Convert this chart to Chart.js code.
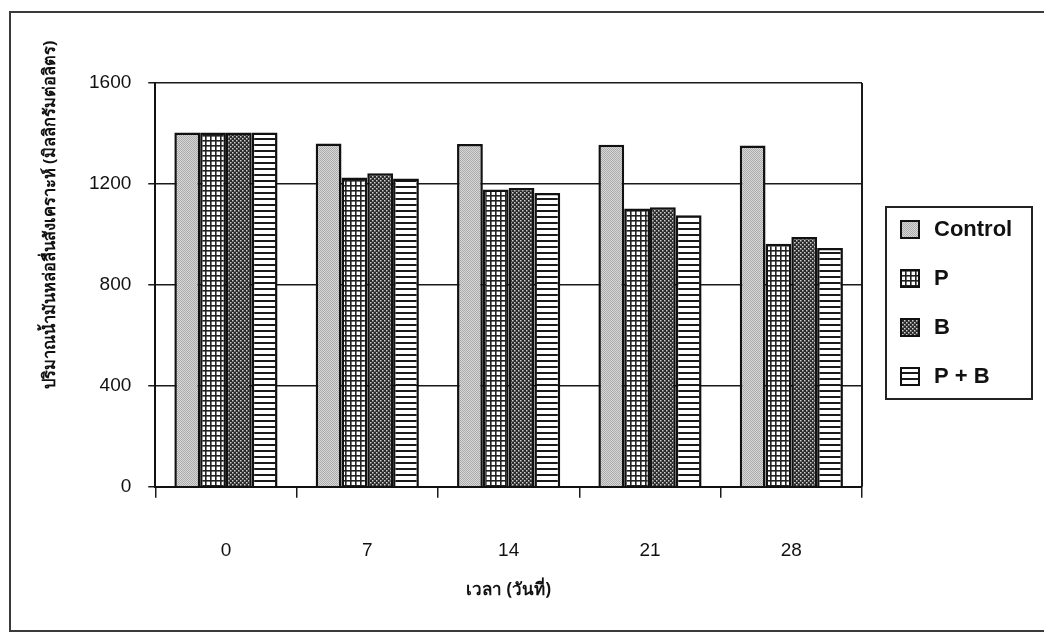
<!DOCTYPE html>
<html>
<head>
<meta charset="utf-8">
<script src="https://cdn.jsdelivr.net/npm/chart.js@4.4.0/dist/chart.umd.min.js"></script>
<style>
  html, body { margin: 0; padding: 0; background: #ffffff; }
  #wrap { width: 1044px; height: 641px; position: relative; }
</style>
</head>
<body>
<div id="wrap"><canvas id="c" width="1044" height="641"></canvas></div>
<script>
const categories = ['0', '7', '14', '21', '28'];
const seriesNames = ['Control', 'P', 'B', 'P + B'];
const controlValues = [1404, 1360, 1358, 1355, 1352];
const pValues = [1404, 1226, 1178, 1103, 963];
const bValues = [1404, 1242, 1184, 1108, 990];
const pbValues = [1404, 1222, 1164, 1076, 946];
const yTicks = [0, 400, 800, 1200, 1600];
const xTitle = 'เวลา (วันที่)';
const yTitle = 'ปริมาณน้ำมันหล่อลื่นสังเคราะห์ (มิลลิกรัมต่อลิตร)';

function makePattern(kind) {
  const c = document.createElement('canvas');
  const x = c.getContext('2d');
  if (kind === 'control') {
    c.width = 2; c.height = 2;
    x.fillStyle = '#d8d8d8'; x.fillRect(0, 0, 2, 2);
    x.fillStyle = '#ababab'; x.fillRect(0, 0, 1, 1); x.fillRect(1, 1, 1, 1);
  } else if (kind === 'p') {
    c.width = 5; c.height = 5;
    x.fillStyle = '#ffffff'; x.fillRect(0, 0, 5, 5);
    x.fillStyle = '#222222'; x.fillRect(0, 0, 5, 1.6); x.fillRect(0, 0, 1.6, 5);
  } else if (kind === 'b') {
    c.width = 4; c.height = 4;
    x.fillStyle = '#2a2a2a'; x.fillRect(0, 0, 4, 4);
    x.fillStyle = '#d0d0d0'; x.fillRect(0, 0, 1.5, 1.5); x.fillRect(2, 2, 1.5, 1.5);
  } else {
    c.width = 6; c.height = 6;
    x.fillStyle = '#ffffff'; x.fillRect(0, 0, 6, 6);
    x.fillStyle = '#1a1a1a'; x.fillRect(0, 0, 6, 2);
  }
  return x.createPattern(c, 'repeat');
}

const fills = [makePattern('control'), makePattern('p'), makePattern('b'), makePattern('pb')];
const seriesValues = [controlValues, pValues, bValues, pbValues];

const decor = {
  id: 'decor',
  afterDraw(chart) {
    const ctx = chart.ctx;
    const a = chart.chartArea;
    ctx.save();
    // outer frame
    ctx.strokeStyle = '#3a3a3a';
    ctx.lineWidth = 2;
    ctx.beginPath();
    ctx.moveTo(1050, 12); ctx.lineTo(10, 12); ctx.lineTo(10, 631); ctx.lineTo(1050, 631);
    ctx.stroke();
    // plot area right border
    ctx.strokeStyle = '#1a1a1a';
    ctx.lineWidth = 2;
    ctx.beginPath();
    ctx.moveTo(a.right, a.top); ctx.lineTo(a.right, a.bottom);
    ctx.stroke();
    // y title
    ctx.fillStyle = '#111';
    ctx.font = 'bold 16.5px "Liberation Sans Narrow", "Noto Sans", "DejaVu Sans", sans-serif';
    ctx.textAlign = 'center';
    ctx.textBaseline = 'middle';
    ctx.translate(a.left - 105, a.top + 132);
    ctx.rotate(-Math.PI / 2);
    ctx.fillText(yTitle, 0, 0);
    ctx.restore();

    // legend
    ctx.save();
    const lx = a.right + 24, ly = 207, lw = 146, lh = 192;
    ctx.fillStyle = '#ffffff';
    ctx.fillRect(lx, ly, lw, lh);
    ctx.strokeStyle = '#222';
    ctx.lineWidth = 2;
    ctx.strokeRect(lx, ly, lw, lh);
    ctx.font = 'bold 22px "Liberation Sans", Arial, sans-serif';
    ctx.textBaseline = 'middle';
    ctx.textAlign = 'left';
    chart.data.datasets.forEach((ds, i) => {
      const cy = ly + 22 + i * 49;
      ctx.fillStyle = ds.backgroundColor;
      ctx.fillRect(lx + 15, cy - 8, 18, 17);
      ctx.strokeStyle = '#111';
      ctx.lineWidth = 2;
      ctx.strokeRect(lx + 15, cy - 8, 18, 17);
      ctx.fillStyle = '#111';
      ctx.fillText(ds.label, lx + 48, cy + 1);
    });
    ctx.restore();
  }
};

new Chart(document.getElementById('c'), {
  type: 'bar',
  data: {
    labels: categories,
    datasets: seriesNames.map((name, i) => ({
      label: name,
      data: seriesValues[i],
      backgroundColor: fills[i],
      borderColor: '#111',
      borderWidth: 2.5,
      categoryPercentage: 0.73,
      barPercentage: 1.0
    }))
  },
  options: {
    responsive: false,
    animation: false,
    devicePixelRatio: 1,
    layout: { padding: { left: 72, top: 83, right: 182, bottom: 41 } },
    plugins: {
      legend: { display: false },
      tooltip: { enabled: false }
    },
    scales: {
      x: {
        grid: { drawOnChartArea: false, drawTicks: true, tickLength: 11, color: '#1a1a1a', lineWidth: 1.5, offset: true },
        border: { display: true, color: '#111', width: 2 },
        ticks: { color: '#111', padding: 42, font: { family: '"Liberation Sans Narrow", "Liberation Sans", Arial, sans-serif', size: 19 } },
        title: { display: true, text: xTitle, color: '#111', padding: { top: -25, bottom: 0 },
                 font: { family: '"Liberation Sans Narrow", "Noto Sans", "DejaVu Sans", sans-serif', size: 17, weight: 'bold' } }
      },
      y: {
        min: 0, max: 1600,
        afterBuildTicks(axis) { axis.ticks = yTicks.map(v => ({ value: v })); },
        grid: { color: '#1a1a1a', lineWidth: 1.5, drawTicks: true, tickLength: 7 },
        border: { display: true, color: '#111', width: 2 },
        ticks: { color: '#111', padding: 17, font: { family: '"Liberation Sans", Arial, sans-serif', size: 19 },
                 callback: (v) => String(v) }
      }
    }
  },
  plugins: [decor]
});
</script>
</body>
</html>
